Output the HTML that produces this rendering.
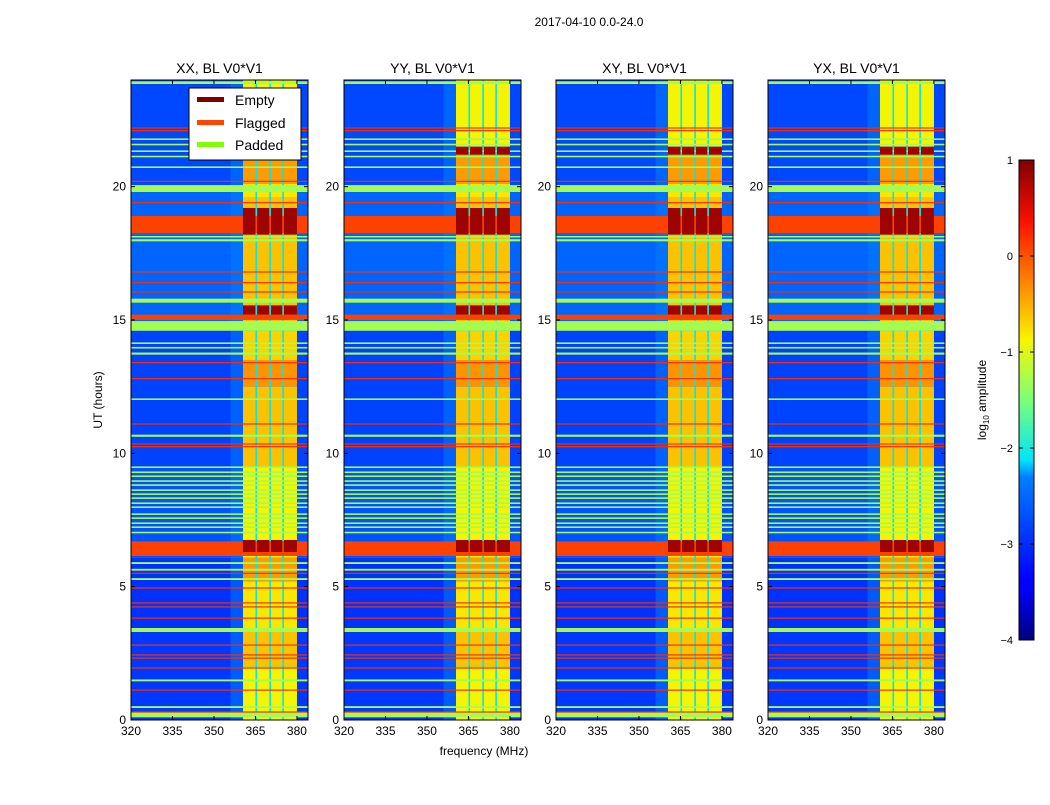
<!DOCTYPE html>
<html><head><meta charset="utf-8">
<style>
html,body{margin:0;padding:0;background:#fff;}
svg text{font-family:"Liberation Sans","DejaVu Sans",sans-serif;fill:#000;}
</style></head>
<body>
<svg id="fig" width="1050" height="800" viewBox="0 0 1050 800" xmlns="http://www.w3.org/2000/svg">
<defs>
<linearGradient id="jet" x1="0" y1="1" x2="0" y2="0">
<stop offset="0" stop-color="#00007f"/><stop offset="0.11" stop-color="#0000ff"/><stop offset="0.125" stop-color="#0000ff"/>
<stop offset="0.34" stop-color="#0080ff"/><stop offset="0.375" stop-color="#00e4f8"/><stop offset="0.5" stop-color="#7cff79"/>
<stop offset="0.625" stop-color="#f8f500"/><stop offset="0.75" stop-color="#ff8000"/><stop offset="0.875" stop-color="#fa0f00"/>
<stop offset="1" stop-color="#7f0000"/></linearGradient>
</defs>
<text x="589" y="26" font-size="12" text-anchor="middle">2017-04-10 0.0-24.0</text>
<text x="484" y="755" font-size="12" text-anchor="middle">frequency (MHz)</text>
<text transform="translate(102,400) rotate(-90)" font-size="12" text-anchor="middle">UT (hours)</text>
<g id="panels"></g>
<g id="cbar"></g>
<g>
<rect x="189" y="88" width="112" height="72" fill="#fff" stroke="#000" stroke-width="1"/>
<rect x="197" y="97" width="27" height="5" fill="#800000"/>
<text x="235" y="105" font-size="14">Empty</text>
<rect x="197" y="120" width="27" height="5" fill="#ff4500"/>
<text x="235" y="128" font-size="14">Flagged</text>
<rect x="197" y="142" width="27" height="5" fill="#7fff00"/>
<text x="235" y="150" font-size="14">Padded</text>
</g>
</svg>
<script>
const panelTitles = ["XX, BL V0*V1","YY, BL V0*V1","XY, BL V0*V1","YX, BL V0*V1"];
const panelLefts = [131,344,556,768];
const xTicks = [320,335,350,365,380];
const yTicks = [0,5,10,15,20];
const cbTicks = [1,0,-1,-2,-3,-4];
// background zones [startHour,endHour,log10 amp]
const bgZones = [[0,3.3,-2.95],[3.3,6.1,-3.0],[6.1,9.5,-2.7],[9.5,14.6,-2.85],[14.6,20.0,-2.55],[20.0,24,-2.8]];
// bright band frequency segments [fStart,fEnd]
const bandSegs = [[360.5,365.0],[365.6,370.0],[370.6,374.7],[375.3,380.0]];
// band level per hour range [start,end,log amp]
const bandLevels = [[0,2,-0.9],[2,3.3,-0.6],[3.3,5.2,-0.8],[5.2,6.1,-0.4],[6.1,9.5,-0.9],[9.5,12.5,-0.6],[12.5,13.5,-0.35],[13.5,14.6,-0.7],[14.6,19.6,-0.6],[19.6,20.1,-0.8],[20.1,21.5,-0.4],[21.5,24,-0.9]];
// padded rows [start,end]
const paddedRows = [[0.1,0.3],[0.45,0.52],[1.45,1.52],[3.3,3.45],[5.25,5.32],[5.6,5.67],[5.85,5.92],[7.0,7.06],[7.2,7.26],[7.35,7.41],[7.54,7.6],[7.69,7.75],[7.95,8.01],[8.1,8.16],[8.29,8.35],[8.44,8.5],[8.59,8.65],[8.78,8.84],[8.93,8.99],[9.11,9.17],[9.26,9.32],[9.45,9.51],[10.62,10.7],[12.0,12.06],[13.7,13.78],[13.93,13.99],[14.1,14.16],[14.6,14.96],[15.65,15.8],[17.95,18.03],[18.1,18.15],[19.8,20.06],[20.7,20.76],[21.1,21.16],[21.3,21.36],[21.55,21.61],[21.75,21.81],[23.85,23.95]];
// broad full-width high-amplitude rows [start,end]
const hotRows = [[6.15,6.7],[18.25,18.9],[15.0,15.2]];
// flagged rows (hours)
const flaggedRows = [0.3,1.12,1.95,2.32,2.44,2.81,3.82,4.24,4.39,4.95,5.5,10.25,10.35,11.1,12.8,13.4,16.05,16.4,16.8,19.4,20.2,22.1,22.2];
// empty rows (within band) [start,end]
const emptyRows = [[6.3,6.75],[15.2,15.55],[18.2,19.2],[21.2,21.5]];

const jetStops=[[0,[0,0,127]],[0.11,[0,0,255]],[0.34,[0,128,255]],[0.375,[0,228,248]],[0.5,[124,255,121]],[0.625,[248,245,0]],[0.75,[255,128,0]],[0.875,[250,15,0]],[1,[127,0,0]]];
function jet(v){let t=Math.max(0,Math.min(1,(v+4)/5));for(let i=1;i<jetStops.length;i++){const a=jetStops[i-1],b=jetStops[i];if(t<=b[0]){const u=(t-a[0])/(b[0]-a[0]);const c=a[1].map((x,k)=>Math.round(x+(b[1][k]-x)*u));return `rgb(${c})`;}}return 'rgb(127,0,0)';}
const NS="http://www.w3.org/2000/svg";
const PW=177,PT=80,PB=720;
function mk(tag,attrs,parent){const e=document.createElementNS(NS,tag);for(const k in attrs)e.setAttribute(k,attrs[k]);parent.appendChild(e);return e;}
const root=document.getElementById('panels');
panelLefts.forEach((x0,p)=>{
  const xs=f=>x0+(f-320)*PW/64;
  const ys=h=>PB-h*(PB-PT)/24;
  const g=mk('g',{},root);
  
  
  bgZones.forEach(z=>{const r=mk('rect',{x:x0,y:ys(z[1]),width:PW,height:ys(z[0])-ys(z[1]),fill:jet(z[2])},g);
    
    });
  bandLevels.forEach(b=>{
    const gap=mk('rect',{x:xs(356),y:ys(b[1]),width:xs(360.5)-xs(356),height:ys(b[0])-ys(b[1]),fill:jet(-2.3),opacity:0.5},g);
    
    
    mk('rect',{x:xs(360.5),y:ys(b[1]),width:xs(380)-xs(360.5),height:ys(b[0])-ys(b[1]),fill:jet(-2.1)},g);
    bandSegs.forEach(s=>{const r=mk('rect',{x:xs(s[0]),y:ys(b[1]),width:xs(s[1])-xs(s[0]),height:ys(b[0])-ys(b[1]),fill:jet(b[2])},g);
      
      });
  });
  paddedRows.forEach(r0=>{const r=mk('rect',{x:x0,y:ys(r0[1]),width:PW,height:Math.max(1.5,ys(r0[0])-ys(r0[1])),fill:jet(-1.3)},g);
    
    });
  hotRows.forEach(r0=>{const r=mk('rect',{x:x0,y:ys(r0[1]),width:PW,height:ys(r0[0])-ys(r0[1]),fill:jet(0.1)},g);
    
    });
  flaggedRows.forEach(h=>{const r=mk('rect',{x:x0,y:ys(h)-0.6,width:PW,height:1.2,fill:jet(0.2)},g);
    
    });
  emptyRows.forEach(e=>bandSegs.forEach(s=>{const r=mk('rect',{x:xs(s[0]),y:ys(e[1]),width:xs(s[1])-xs(s[0]),height:ys(e[0])-ys(e[1]),fill:jet(0.85)},g);
    
    }));
  mk('rect',{x:x0,y:PT,width:PW,height:PB-PT,fill:'none',stroke:'#000','stroke-width':1},g);
  const t=mk('text',{x:x0+PW/2,y:73,'font-size':14,'text-anchor':'middle'},g);t.textContent=panelTitles[p];
  
  
  xTicks.forEach(v=>{mk('line',{x1:xs(v),x2:xs(v),y1:PB,y2:PB-4,stroke:'#000'},g);mk('line',{x1:xs(v),x2:xs(v),y1:PT,y2:PT+4,stroke:'#000'},g);
    const l=mk('text',{x:xs(v),y:PB+15,'font-size':12,'text-anchor':'middle'},g);l.textContent=v;
    
    });
  yTicks.forEach(v=>{mk('line',{x1:x0,x2:x0+4,y1:ys(v),y2:ys(v),stroke:'#000'},g);mk('line',{x1:x0+PW,x2:x0+PW-4,y1:ys(v),y2:ys(v),stroke:'#000'},g);
    const l=mk('text',{x:x0-5,y:ys(v)+4,'font-size':12,'text-anchor':'end'},g);l.textContent=v;
    
    });
});
const cb=document.getElementById('cbar');
const cy=v=>160+(1-v)*96;
mk('rect',{x:1019,y:160,width:15,height:480,fill:'url(#jet)',stroke:'#000','stroke-width':1},cb);
cbTicks.forEach(v=>{mk('line',{x1:1019,x2:1023,y1:cy(v),y2:cy(v),stroke:'#000'},cb);mk('line',{x1:1034,x2:1030,y1:cy(v),y2:cy(v),stroke:'#000'},cb);
  const l=mk('text',{x:1013,y:cy(v)+4,'font-size':11,'text-anchor':'end'},cb);l.textContent=v<0?'\u2212'+(-v):v;
  
  });
const cl=mk('text',{transform:'translate(986,400) rotate(-90)','font-size':12,'text-anchor':'middle'},cb);


cl.innerHTML='log<tspan font-size="8" dy="3">10</tspan><tspan dy="-3"> amplitude</tspan>';
</script>
</body></html>
